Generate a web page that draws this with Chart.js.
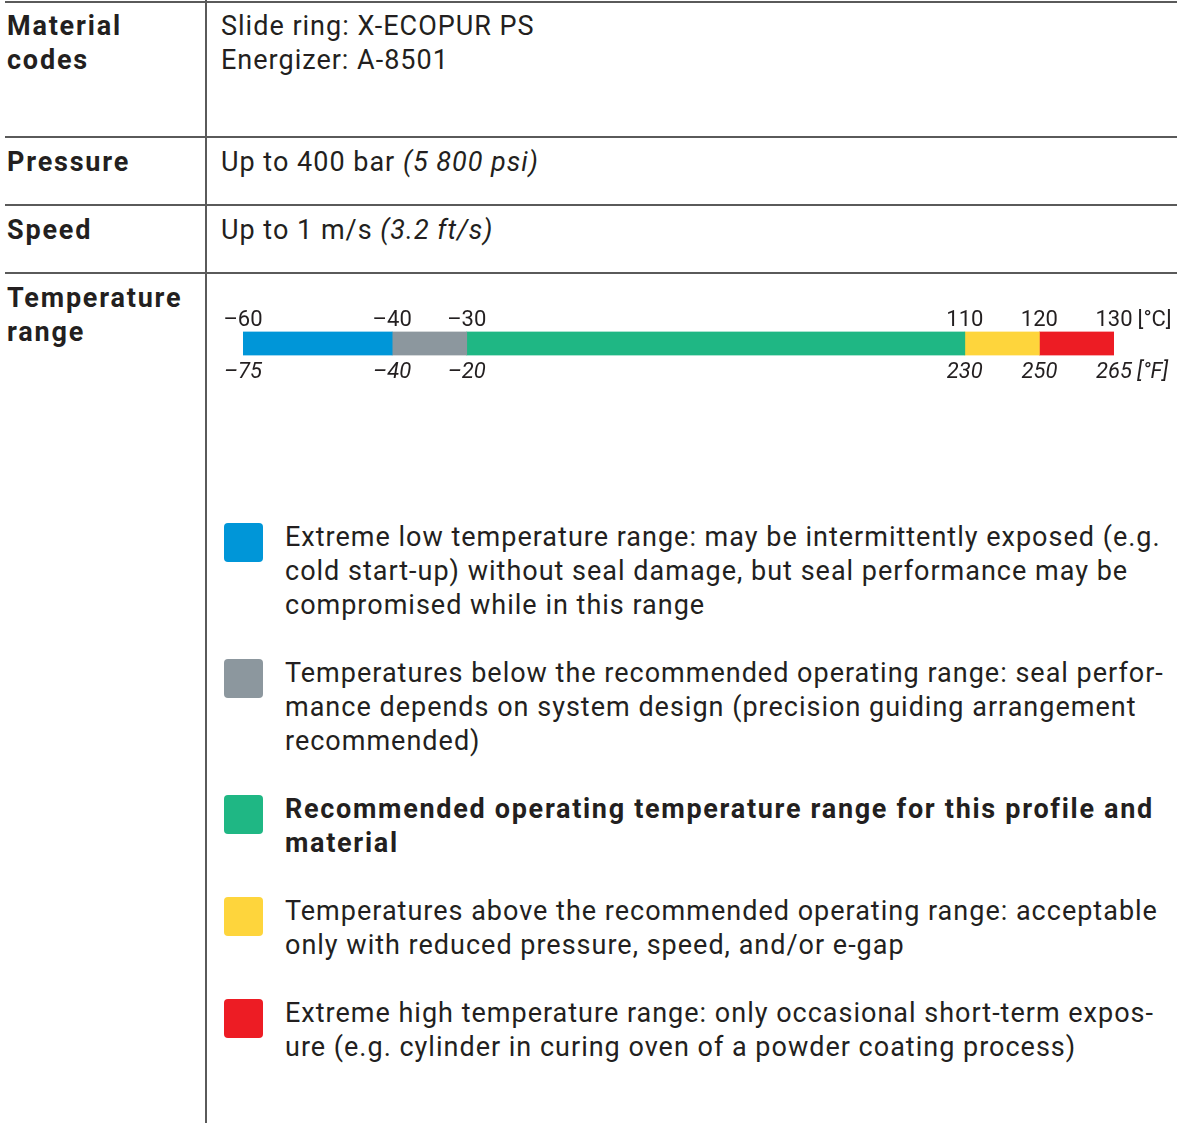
<!DOCTYPE html>
<html>
<head>
<meta charset="utf-8">
<script src="https://cdn.jsdelivr.net/npm/chart.js@4.4.1/dist/chart.umd.min.js"></script>
<style>
  html, body { margin: 0; padding: 0; background: #fff; }
  #page { position: relative; width: 1177px; height: 1123px; overflow: hidden;
    font-family: Roboto, "Noto Sans", sans-serif; color: #231f20; font-size: 27px; line-height: 34px;
    letter-spacing: 1px; }
  .hline { position: absolute; left: 5px; right: 0; height: 1.5px; background: #5a5a5a; }
  .vline { position: absolute; left: 205px; top: 0; bottom: 0; width: 1.5px; background: #5a5a5a; }
  .lab { position: absolute; left: 7px; font-weight: bold; letter-spacing: 1.8px; }
  .val { position: absolute; left: 221px; }
  #chartBox { position: absolute; left: 207px; top: 309px; width: 970px; height: 81px; letter-spacing: 0; }
  #chartBox canvas { letter-spacing: 0; }
  #legend { position: absolute; left: 224px; top: 520px; width: 950px; }
  .item { position: relative; padding-left: 61px; margin-bottom: 34px; }
  .sw { position: absolute; left: 0; top: 3px; width: 39px; height: 39px; border-radius: 4px; }
  .item.strong { font-weight: bold; letter-spacing: 1.7px; }
</style>
</head>
<body>
<div id="page">
  <div class="hline" style="top:1px"></div>
  <div class="hline" style="top:136px"></div>
  <div class="hline" style="top:204px"></div>
  <div class="hline" style="top:272px"></div>
  <div class="vline"></div>

  <div class="lab" style="top:9px">Material<br>codes</div>
  <div class="val" style="top:9px">Slide ring: X-ECOPUR PS<br>Energizer: A-8501</div>
  <div class="lab" style="top:145px">Pressure</div>
  <div class="val" style="top:145px">Up to 400 bar <i>(5 800 psi)</i></div>
  <div class="lab" style="top:213px">Speed</div>
  <div class="val" style="top:213px">Up to 1 m/s <i>(3.2 ft/s)</i></div>
  <div class="lab" style="top:281px">Temperature<br>range</div>

  <div id="chartBox"><canvas id="tempChart"></canvas></div>
  <div id="legend"></div>
</div>

<script>
// temperature bands in °C
const RANGE_NAMES = ['Extreme low', 'Below recommended', 'Recommended', 'Above recommended', 'Extreme high'];
const RANGE_FROM = [-60, -40, -30, 110, 120];
const RANGE_TO = [-40, -30, 110, 120, 130];
const RANGE_COLORS = ['#0096d8', '#8c979e', '#1fb784', '#fed53c', '#ed1c24'];

// tick labels
const CELSIUS_TICKS = [-60, -40, -30, 110, 120, 130];
const FAHRENHEIT_TICKS = [-75, -40, -20, 230, 250, 265];
const CELSIUS_UNIT = '[°C]';
const FAHRENHEIT_UNIT = '[°F]';

// legend texts, one entry per line
const LEGEND_LINES = [
  ['Extreme low temperature range: may be intermittently exposed (e.g.', 'cold start-up) without seal damage, but seal performance may be', 'compromised while in this range'],
  ['Temperatures below the recommended operating range: seal perfor-', 'mance depends on system design (precision guiding arrangement', 'recommended)'],
  ['Recommended operating temperature range for this profile and', 'material'],
  ['Temperatures above the recommended operating range: acceptable', 'only with reduced pressure, speed, and/or e-gap'],
  ['Extreme high temperature range: only occasional short-term expos-', 'ure (e.g. cylinder in curing oven of a powder coating process)']
];
const LEGEND_BOLD = [false, false, true, false, false];

const FONT = 'Roboto, "Noto Sans", sans-serif';
const TICK_SIZE = 22;
const TOP_PAD = -2;
const BOTTOM_PAD = 4;

// linear scale whose recommended band is drawn compressed
class CompressedScale extends Chart.LinearScale {
  _t(v) {
    const c = this.options.compress;
    if (v <= c.from) return v;
    if (v <= c.to) return c.from + (v - c.from) * c.factor;
    return c.from + (c.to - c.from) * c.factor + (v - c.to);
  }
  getPixelForValue(value) {
    if (value === null || isNaN(value)) return NaN;
    const a = this._t(this.min), b = this._t(this.max);
    return this.getPixelForDecimal((this._t(value) - a) / (b - a));
  }
}
CompressedScale.id = 'compressed';
CompressedScale.defaults = Chart.LinearScale.defaults;
Chart.register(CompressedScale);

// unit text after the last tick label of each axis
const unitLabels = {
  id: 'unitLabels',
  afterDraw(chart) {
    const ctx = chart.ctx;
    const lh = TICK_SIZE * 1.2;
    const rows = [
      ['x', CELSIUS_UNIT, 'normal', chart.chartArea.top - TOP_PAD - lh / 2],
      ['xF', FAHRENHEIT_UNIT, 'italic', chart.chartArea.bottom + BOTTOM_PAD + lh / 2]
    ];
    rows.forEach(([id, unit, style, y]) => {
      const sc = chart.scales[id];
      const n = sc.ticks.length - 1;
      const px = sc.getPixelForTick(n);
      ctx.save();
      ctx.font = style + ' ' + TICK_SIZE + 'px ' + FONT;
      const w = ctx.measureText(String(sc.ticks[n].label)).width;
      ctx.fillStyle = '#231f20';
      ctx.textBaseline = 'middle';
      ctx.textAlign = 'left';
      ctx.fillText(unit, px + w / 2 + 5, y);
      ctx.restore();
    });
  }
};

const compress = { from: -30, to: 110, factor: 0.477 };

function axis(position, pad, style, labelFn) {
  return {
    type: 'compressed', position,
    min: CELSIUS_TICKS[0], max: CELSIUS_TICKS[CELSIUS_TICKS.length - 1],
    compress,
    afterBuildTicks: s => { s.ticks = CELSIUS_TICKS.map(v => ({ value: v })); },
    grid: { display: false, drawTicks: false },
    border: { display: false },
    ticks: {
      padding: pad, maxRotation: 0, autoSkip: false, color: '#231f20',
      font: { family: FONT, size: TICK_SIZE, style },
      callback: labelFn
    }
  };
}

new Chart(document.getElementById('tempChart'), {
  type: 'bar',
  data: {
    labels: ['range'],
    datasets: RANGE_NAMES.map((name, i) => ({
      label: name,
      data: [[RANGE_FROM[i], RANGE_TO[i]]],
      backgroundColor: RANGE_COLORS[i],
      borderWidth: 0,
      barThickness: 24,
      grouped: false,
      xAxisID: 'x'
    }))
  },
  options: {
    indexAxis: 'y',
    responsive: true,
    maintainAspectRatio: false,
    animation: false,
    layout: { padding: { left: 36, right: 63 } },
    plugins: { legend: { display: false }, tooltip: { enabled: false } },
    scales: {
      y: { display: false },
      x: axis('top', TOP_PAD, 'normal', v => String(v).replace('-', '–')),
      xF: axis('bottom', BOTTOM_PAD, 'italic', (v, i) => String(FAHRENHEIT_TICKS[i]).replace('-', '–'))
    }
  },
  plugins: [unitLabels]
});

const legend = document.getElementById('legend');
LEGEND_LINES.forEach((lines, i) => {
  const item = document.createElement('div');
  item.className = 'item' + (LEGEND_BOLD[i] ? ' strong' : '');
  const sw = document.createElement('div');
  sw.className = 'sw';
  sw.style.background = RANGE_COLORS[i];
  item.appendChild(sw);
  lines.forEach(t => {
    const l = document.createElement('div');
    l.textContent = t;
    l.style.whiteSpace = 'nowrap';
    item.appendChild(l);
  });
  legend.appendChild(item);
});
</script>
</body>
</html>
